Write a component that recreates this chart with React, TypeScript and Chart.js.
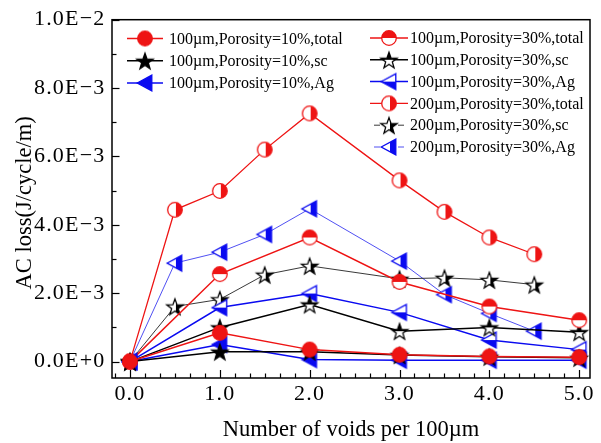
import React, { useEffect, useRef } from 'react';
import { Chart, registerables } from 'chart.js';

Chart.register(...registerables);

// ---------- data ----------
const X_100 = [0, 1, 2, 3, 4, 5];
const X_200 = [0, 0.5, 1, 1.5, 2, 3, 3.5, 4, 4.5];

const P10_TOTAL = [0, 0.84e-3, 0.35e-3, 0.2e-3, 0.15e-3, 0.13e-3];
const P10_SC = [0, 0.29e-3, 0.29e-3, 0.19e-3, 0.14e-3, 0.11e-3];
const P10_AG = [0, 0.5e-3, 0.06e-3, 0.04e-3, 0.04e-3, 0.04e-3];
const P30_TOTAL = [0, 2.56e-3, 3.63e-3, 2.33e-3, 1.61e-3, 1.21e-3];
const P30_SC = [0, 1.0e-3, 1.67e-3, 0.89e-3, 1.0e-3, 0.86e-3];
const P30_AG = [0, 1.58e-3, 1.99e-3, 1.44e-3, 0.63e-3, 0.35e-3];
const W200_TOTAL = [0, 4.44e-3, 4.99e-3, 6.2e-3, 7.26e-3, 5.3e-3, 4.38e-3, 3.63e-3, 3.14e-3];
const W200_SC = [0, 1.61e-3, 1.82e-3, 2.54e-3, 2.8e-3, 2.42e-3, 2.45e-3, 2.39e-3, 2.25e-3];
const W200_AG = [0, 2.88e-3, 3.2e-3, 3.72e-3, 4.47e-3, 2.94e-3, 1.96e-3, 1.41e-3, 0.89e-3];

const LABELS = [
  '100\u00b5m,Porosity=10%,total',
  '100\u00b5m,Porosity=10%,sc',
  '100\u00b5m,Porosity=10%,Ag',
  '100\u00b5m,Porosity=30%,total',
  '100\u00b5m,Porosity=30%,sc',
  '100\u00b5m,Porosity=30%,Ag',
  '200\u00b5m,Porosity=30%,total',
  '200\u00b5m,Porosity=30%,sc',
  '200\u00b5m,Porosity=30%,Ag',
];

const X_TICKS = [0, 1, 2, 3, 4, 5];
const X_TICK_LABELS = ['0.0', '1.0', '2.0', '3.0', '4.0', '5.0'];
const Y_TICKS = [0, 0.002, 0.004, 0.006, 0.008, 0.01];
const Y_TICK_LABELS = ['0.0E+0', '2.0E\u22123', '4.0E\u22123', '6.0E\u22123', '8.0E\u22123', '1.0E\u22122'];

const X_TITLE = 'Number of voids per 100\u00b5m';
const Y_TITLE = 'AC loss(J/cycle/m)';

// ---------- styles ----------
const RED = 'rgb(238,20,20)';
const BLACK = '#000000';
const BLUE = 'rgb(10,10,240)';
const FONT = '"Liberation Serif", "Times New Roman", serif';

type Shape = 'circle' | 'star' | 'tri';
type Fill = 'full' | 'top' | 'bottom' | 'right';

function makeMarker(shape: Shape, color: string, fill: Fill): HTMLCanvasElement {
  const S = 22;
  const c = document.createElement('canvas');
  c.width = S;
  c.height = S;
  const ctx = c.getContext('2d')!;
  const cx = S / 2;
  const cy = S / 2;
  const path = () => {
    ctx.beginPath();
    if (shape === 'circle') {
      ctx.arc(cx, cy, 7.3, 0, Math.PI * 2);
    } else if (shape === 'star') {
      const R = 8.6;
      const r = 3.5;
      for (let i = 0; i < 10; i++) {
        const a = -Math.PI / 2 + (i * Math.PI) / 5;
        const rr = i % 2 === 0 ? R : r;
        const px = cx + rr * Math.cos(a);
        const py = cy + 1 + rr * Math.sin(a);
        if (i === 0) ctx.moveTo(px, py);
        else ctx.lineTo(px, py);
      }
    } else {
      ctx.moveTo(cx - 7.8, cy);
      ctx.lineTo(cx + 6.8, cy - 7.8);
      ctx.lineTo(cx + 6.8, cy + 7.8);
    }
    ctx.closePath();
  };
  path();
  ctx.fillStyle = fill === 'full' ? color : '#ffffff';
  ctx.fill();
  if (fill !== 'full') {
    ctx.save();
    path();
    ctx.clip();
    ctx.fillStyle = color;
    if (fill === 'top') ctx.fillRect(0, 0, S, cy);
    else if (fill === 'bottom') ctx.fillRect(0, cy, S, S - cy);
    else ctx.fillRect(cx + 1, 0, S, S);
    ctx.restore();
  }
  path();
  ctx.strokeStyle = color;
  ctx.lineWidth = 1.3;
  ctx.lineJoin = 'miter';
  ctx.stroke();
  return c;
}

const decorPlugin = {
  id: 'originDecor',
  beforeDraw(chart: any) {
    // tick labels in the reference are set a little wider
    (chart.ctx as any).letterSpacing = '1.2px';
  },
  beforeDatasetsDraw(chart: any) {
    const { ctx, chartArea } = chart;
    (ctx as any).letterSpacing = '0px';
    const xs = chart.scales.x;
    const ys = chart.scales.y;
    ctx.save();
    ctx.strokeStyle = '#000';
    ctx.lineWidth = 1.5;
    ctx.strokeRect(chartArea.left, chartArea.top, chartArea.right - chartArea.left, chartArea.bottom - chartArea.top);
    ctx.lineWidth = 1.2;
    // x ticks (inward, bottom)
    for (let k = -1; k <= 31; k++) {
      const v = k / 6;
      if (v < xs.min || v > xs.max) continue;
      const px = Math.round(xs.getPixelForValue(v)) + 0.5;
      const len = k % 6 === 0 ? 8 : 4.5;
      ctx.beginPath();
      ctx.moveTo(px, chartArea.bottom);
      ctx.lineTo(px, chartArea.bottom - len);
      ctx.stroke();
    }
    // y ticks (inward, left)
    for (let k = 0; k <= 10; k++) {
      const v = k * 0.001;
      const py = Math.round(ys.getPixelForValue(v)) + 0.5;
      const len = k % 2 === 0 ? 7.5 : 4.5;
      ctx.beginPath();
      ctx.moveTo(chartArea.left, py);
      ctx.lineTo(chartArea.left + len, py);
      ctx.stroke();
    }
    ctx.restore();
  },
  afterDraw(chart: any) {
    const { ctx, chartArea } = chart;
    (ctx as any).letterSpacing = '0px';
    const ds = chart.data.datasets;
    ctx.save();
    // axis titles
    ctx.fillStyle = '#000';
    ctx.font = '22.5px ' + FONT;
    ctx.textAlign = 'center';
    ctx.textBaseline = 'middle';
    ctx.fillText(X_TITLE, (chartArea.left + chartArea.right) / 2, 430);
    ctx.save();
    ctx.translate(25, (chartArea.top + chartArea.bottom) / 2 + 4);
    ctx.rotate(-Math.PI / 2);
    ctx.fillText(Y_TITLE, 0, 0);
    ctx.restore();

    // legend
    ctx.font = '16px ' + FONT;
    ctx.textBaseline = 'middle';
    ctx.textAlign = 'left';
    const drawItem = (i: number, x0: number, x1: number, mx: number, tx: number, y: number) => {
      const d = ds[i];
      ctx.strokeStyle = d.borderColor;
      ctx.lineWidth = d.borderWidth;
      ctx.beginPath();
      if (d.legendGap) {
        ctx.moveTo(x0 + 4, y);
        ctx.lineTo(mx - 9, y);
        ctx.moveTo(mx + 9, y);
        ctx.lineTo(x1 - 4, y);
      } else {
        ctx.moveTo(x0, y);
        ctx.lineTo(x1, y);
      }
      ctx.stroke();
      const img = d.pointStyle as HTMLCanvasElement;
      ctx.drawImage(img, mx - img.width / 2, y - img.height / 2);
      ctx.fillText(d.label, tx, y + 1);
    };
    const leftRows = [38.5, 60.8, 83];
    for (let i = 0; i < 3; i++) drawItem(i, 127, 163, 145, 169, leftRows[i]);
    for (let i = 0; i < 6; i++) drawItem(i + 3, 370, 408, 389, 410, 38 + i * 21.8);
    ctx.restore();
  },
};

function series(xs: number[], ys: number[]) {
  return xs.map((x, i) => ({ x, y: ys[i] }));
}

export default function App() {
  const ref = useRef<HTMLCanvasElement | null>(null);
  useEffect(() => {
    if (!ref.current) return;
    const mk = (
      label: string,
      xs: number[],
      ys: number[],
      color: string,
      width: number,
      marker: HTMLCanvasElement,
      gap = false,
    ) => ({
      label,
      data: series(xs, ys),
      borderColor: color,
      backgroundColor: color,
      borderWidth: width,
      pointStyle: marker,
      pointRadius: 7,
      tension: 0,
      fill: false,
      legendGap: gap,
    });
    const datasets = [
      mk(LABELS[0], X_100, P10_TOTAL, RED, 1.5, makeMarker('circle', RED, 'full')),
      mk(LABELS[1], X_100, P10_SC, BLACK, 1.5, makeMarker('star', BLACK, 'full')),
      mk(LABELS[2], X_100, P10_AG, BLUE, 1.5, makeMarker('tri', BLUE, 'full')),
      mk(LABELS[3], X_100, P30_TOTAL, RED, 1.5, makeMarker('circle', RED, 'top')),
      mk(LABELS[4], X_100, P30_SC, BLACK, 1.5, makeMarker('star', BLACK, 'top')),
      mk(LABELS[5], X_100, P30_AG, BLUE, 1.5, makeMarker('tri', BLUE, 'bottom')),
      mk(LABELS[6], X_200, W200_TOTAL, RED, 1.3, makeMarker('circle', RED, 'right')),
      mk(LABELS[7], X_200, W200_SC, '#222222', 0.9, makeMarker('star', BLACK, 'right'), true),
      mk(LABELS[8], X_200, W200_AG, 'rgb(60,60,240)', 0.9, makeMarker('tri', BLUE, 'right'), true),
    ];
    const tickFont = { family: FONT, size: 22 };
    const chart = new Chart(ref.current, {
      type: 'line',
      data: { datasets: datasets as any },
      options: {
        animation: false,
        responsive: false,
        events: [],
        layout: { padding: { left: 0, right: 11, top: 15, bottom: 0 }, autoPadding: false } as any,
        plugins: { legend: { display: false }, tooltip: { enabled: false } },
        scales: {
          x: {
            type: 'linear',
            min: -0.2,
            max: 5.12,
            grid: { display: false, drawTicks: false },
            border: { display: false },
            ticks: {
              font: tickFont,
              color: '#000',
              padding: 3,
              maxRotation: 0,
              autoSkip: false,
              callback: (v: any) => {
                const i = X_TICKS.indexOf(Number(v));
                return i >= 0 ? X_TICK_LABELS[i] : '';
              },
            },
            afterBuildTicks: (s: any) => {
              s.ticks = X_TICKS.map((v) => ({ value: v }));
            },
            afterFit: (s: any) => {
              s.height = 65;
            },
            title: { display: false, text: X_TITLE },
          },
          y: {
            type: 'linear',
            min: -0.00048,
            max: 0.01,
            grid: { display: false, drawTicks: false },
            border: { display: false },
            ticks: {
              font: tickFont,
              color: '#000',
              padding: 6.5,
              autoSkip: false,
              callback: (v: any) => {
                const i = Y_TICKS.indexOf(Number(v));
                return i >= 0 ? Y_TICK_LABELS[i] : '';
              },
            },
            afterBuildTicks: (s: any) => {
              s.ticks = Y_TICKS.map((v) => ({ value: v }));
            },
            afterFit: (s: any) => {
              s.width = 112;
            },
            title: { display: false, text: Y_TITLE },
          },
        },
      } as any,
      plugins: [decorPlugin],
    });
    return () => chart.destroy();
  }, []);
  return (
    <div style={{ position: 'fixed', left: 0, top: 0, width: 601, height: 443, background: '#fff' }}>
      <canvas ref={ref} width={601} height={443} style={{ display: 'block', width: 601, height: 443 }} />
    </div>
  );
}
